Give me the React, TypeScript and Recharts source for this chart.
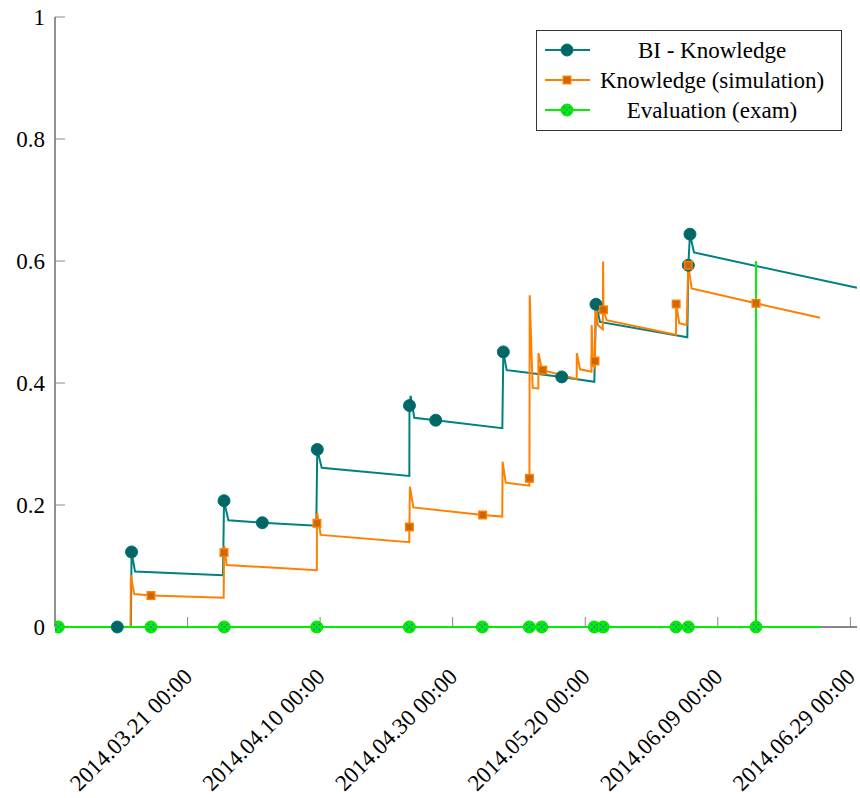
import React from 'react'
import { LineChart, Line, XAxis, YAxis, ReferenceLine } from 'recharts'

// x = days since 2014.03.01 00:00
const xTicks = [20, 40, 60, 80, 100, 120]
const xTickLabels = [
  '2014.03.21 00:00',
  '2014.04.10 00:00',
  '2014.04.30 00:00',
  '2014.05.20 00:00',
  '2014.06.09 00:00',
  '2014.06.29 00:00',
]
const yTicks = [0, 0.2, 0.4, 0.6, 0.8, 1]
const X_MAX = 121

// BI - Knowledge
const biDays = [
  9.4, 11.45, 11.55, 12.07, 25.35, 25.5, 26.15, 31.28, 39.42, 39.57, 40.24, 53.46, 53.48, 53.66,
  54.21, 57.44, 67.49, 67.64, 68.15, 76.45, 81.37, 81.62, 82.23, 95.4, 95.55, 95.8, 96.41, 121,
]
const biValues = [
  0, 0, 0.123, 0.091, 0.085, 0.207, 0.175, 0.171, 0.166, 0.291, 0.261, 0.2475, 0.363, 0.379,
  0.343, 0.339, 0.326, 0.451, 0.421, 0.41, 0.402, 0.529, 0.5, 0.475, 0.593, 0.644, 0.614, 0.556,
]
const biMarks = [
  1, 0, 1, 0, 0, 1, 0, 1, 0, 1, 0, 0, 1, 0,
  0, 1, 0, 1, 0, 1, 0, 1, 0, 0, 1, 1, 0, 0,
]

// Knowledge (simulation)
const simDays = [
  0, 11.4, 11.44, 11.96, 14.48, 25.45, 25.5, 25.55, 25.9, 39.5, 39.52, 39.55, 40.08, 53.45,
  53.47, 53.55, 54.06, 64.52, 67.48, 67.53, 68.0, 71.56, 71.58, 71.62, 72.07, 72.92, 72.94, 73.43,
  73.58, 78.71, 78.73, 79.21, 80.94, 80.97, 81.2, 81.45, 81.47, 81.55, 81.9, 82.65, 82.7, 82.75,
  83.23, 93.69, 93.72, 94.19, 95.3, 95.55, 96.05, 105.76, 115.42,
]
const simValues = [
  0, 0, 0.085, 0.054, 0.0515, 0.048, 0.122, 0.133, 0.1016, 0.093, 0.17, 0.187, 0.151, 0.139,
  0.164, 0.23, 0.196, 0.1836, 0.181, 0.271, 0.2366, 0.2317, 0.2437, 0.544, 0.392, 0.391, 0.449, 0.424,
  0.421, 0.4066, 0.449, 0.4224, 0.4186, 0.495, 0.428, 0.425, 0.436, 0.539, 0.495, 0.488, 0.599, 0.52,
  0.503, 0.479, 0.5295, 0.498, 0.495, 0.593, 0.555, 0.5306, 0.507,
]
const simMarks = [
  0, 0, 0, 0, 1, 0, 1, 0, 0, 0, 1, 0, 0, 0,
  1, 0, 0, 1, 0, 0, 0, 0, 1, 0, 0, 0, 0, 0,
  1, 0, 0, 0, 0, 0, 0, 0, 1, 0, 0, 0, 0, 1,
  0, 0, 1, 0, 0, 1, 0, 1, 0,
]

// Evaluation (exam)
const examDays = [
  0, 0.5, 14.48, 25.54, 39.48, 53.46, 64.47, 71.56, 73.43, 81.37, 82.72, 93.69, 95.55, 105.76,
  105.77, 105.78, 115.42,
]
const examValues = [0, 0, 0, 0, 0, 0, 0, 0, 0, 0, 0, 0, 0, 0, 0.6, 0, 0]
const examMarks = [0, 1, 1, 1, 1, 1, 1, 1, 1, 1, 1, 1, 1, 1, 0, 0, 0]

const toRows = (days: number[], values: number[], marks: number[]) =>
  days.map((d, i) => ({ d, v: values[i], m: marks[i] === 1 }))

const biData = toRows(biDays, biValues, biMarks)
const simData = toRows(simDays, simValues, simMarks)
const examData = toRows(examDays, examValues, examMarks)

const TEAL = '#008080'
const ORANGE = '#ff8000'
const GREEN = '#00f000'
const FONT = "'Liberation Serif', 'DejaVu Serif', serif"
const textStyle: React.CSSProperties = { fontFamily: FONT, fontSize: 23 }

function tealMark(cx: number, cy: number, key?: string) {
  return <circle key={key} cx={cx} cy={cy} r={6} fill="#006666" stroke="#007373" strokeWidth={1} />
}
function orangeMark(cx: number, cy: number, key?: string) {
  return (
    <rect key={key} x={cx - 3.8} y={cy - 3.8} width={7.6} height={7.6} fill="#cc6600" stroke={ORANGE} strokeWidth={1.4} />
  )
}
function greenMark(cx: number, cy: number, key?: string) {
  const o = 2.4
  return (
    <g key={key}>
      <circle cx={cx} cy={cy} r={6} fill={GREEN} stroke="#00dd00" strokeWidth={1} />
      {[[-o, -o], [o, -o], [-o, o], [o, o], [0, 0]].map(([dx, dy], i) => (
        <circle key={i} cx={cx + dx} cy={cy + dy} r={0.9} fill="#2a6be0" />
      ))}
    </g>
  )
}

const makeDot = (draw: typeof tealMark) => (p: any) =>
  p.payload && p.payload.m ? draw(p.cx, p.cy, `dot-${p.index}`) : <g key={`dot-${p.index}`} />

const XTick = (props: any) => {
  const { x, payload } = props
  const label = xTickLabels[xTicks.indexOf(payload.value)] ?? ''
  return (
    <text transform={`translate(${x + 6},${678}) rotate(-45)`} textAnchor="end" fill="#000" style={textStyle}>
      {label}
    </text>
  )
}

const YTick = (props: any) => {
  const { x, y, payload } = props
  const v = payload.value as number
  const label = v === 0 || v === 1 ? String(v) : v.toFixed(1)
  return (
    <text x={x} y={y + 8} textAnchor="end" fill="#000" style={textStyle}>
      {label}
    </text>
  )
}

const legendRows = [
  { label: 'BI - Knowledge', color: TEAL, mark: tealMark },
  { label: 'Knowledge (simulation)', color: ORANGE, mark: orangeMark },
  { label: 'Evaluation (exam)', color: GREEN, mark: greenMark },
]

const LegendBox = () => (
  <svg width={306} height={101} style={{ position: 'absolute', left: 536, top: 30, display: 'block' }}>
    <rect x={0.5} y={0.5} width={305} height={100} fill="#fff" stroke="#333" strokeWidth={1} />
    {legendRows.map((r, i) => {
      const y = 20 + i * 30
      return (
        <g key={r.label}>
          <line x1={9} x2={54} y1={y} y2={y} stroke={r.color} strokeWidth={2} />
          {r.mark(31, y)}
          <text x={176} y={y + 8} textAnchor="middle" fill="#000" style={textStyle}>
            {r.label}
          </text>
        </g>
      )
    })}
  </svg>
)

export default function App() {
  const lastExam = examDays[examDays.length - 1]
  return (
    <div style={{ position: 'absolute', left: 0, top: 0, width: 860, height: 798, background: '#fff' }}>
      <LineChart width={860} height={798} margin={{ top: 17, right: 3, left: 0, bottom: 0 }}>
        <XAxis
          dataKey="d"
          type="number"
          domain={[0, X_MAX]}
          ticks={xTicks}
          allowDataOverflow
          height={171}
          tickSize={-10}
          tickLine={{ stroke: '#888' }}
          axisLine={false}
          tick={<XTick />}
          interval={0}
        />
        <XAxis
          xAxisId="top"
          orientation="top"
          dataKey="d"
          type="number"
          domain={[0, X_MAX]}
          ticks={xTicks}
          allowDataOverflow
          height={0}
          tickSize={-10}
          tickLine={{ stroke: '#888' }}
          axisLine={{ stroke: '#000' }}
          tick={false}
        />
        <YAxis
          type="number"
          domain={[0, 1]}
          ticks={yTicks}
          width={55}
          tickSize={-10}
          tickMargin={20}
          tickLine={{ stroke: '#888' }}
          axisLine={{ stroke: '#222' }}
          tick={<YTick />}
          interval={0}
        />
        <YAxis
          yAxisId="right"
          orientation="right"
          type="number"
          domain={[0, 1]}
          ticks={yTicks}
          width={0}
          tickSize={-10}
          tickLine={{ stroke: '#888' }}
          axisLine={{ stroke: '#000' }}
          tick={false}
        />
        <ReferenceLine
          segment={[{ x: lastExam, y: 0 }, { x: X_MAX, y: 0 }]}
          stroke="#111"
          strokeWidth={1}
        />

        <Line data={biData} dataKey="v" type="linear" stroke={TEAL} strokeWidth={2} dot={false} activeDot={false} isAnimationActive={false} legendType="none" />
        <Line data={simData} dataKey="v" type="linear" stroke={ORANGE} strokeWidth={2} dot={false} activeDot={false} isAnimationActive={false} legendType="none" />
        <Line data={examData} dataKey="v" type="linear" stroke={GREEN} strokeWidth={2} dot={false} activeDot={false} isAnimationActive={false} legendType="none" />

        <Line data={biData} dataKey="v" type="linear" stroke="none" dot={makeDot(tealMark)} activeDot={false} isAnimationActive={false} legendType="none" />
        <Line data={simData} dataKey="v" type="linear" stroke="none" dot={makeDot(orangeMark)} activeDot={false} isAnimationActive={false} legendType="none" />
        <Line data={examData} dataKey="v" type="linear" stroke="none" dot={makeDot(greenMark)} activeDot={false} isAnimationActive={false} legendType="none" />
      </LineChart>
      <LegendBox />
    </div>
  )
}
